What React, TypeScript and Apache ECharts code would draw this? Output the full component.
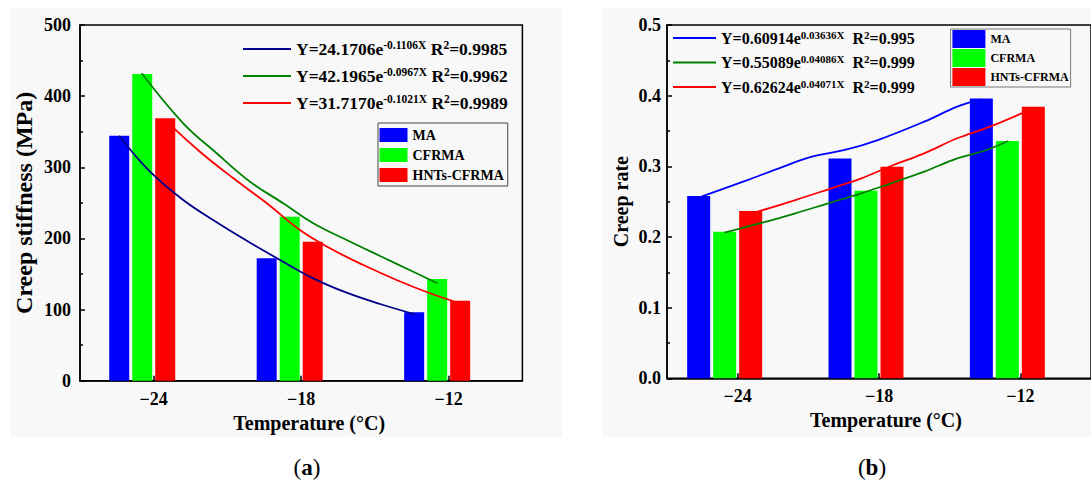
import React, { useEffect, useRef } from "react";
import * as echarts from "echarts";

// ---------- data ----------
const categories = ["−24", "−18", "−12"];
const barNames = ["MA", "CFRMA", "HNTs-CFRMA"];

// (a) creep stiffness (MPa)
const stiffMA = [344.4, 172.2, 96.1];
const stiffCF = [431.1, 230.5, 143.0];
const stiffHN = [368.8, 195.4, 112.5];

// (b) creep rate
const rateMA = [0.258, 0.311, 0.396];
const rateCF = [0.2075, 0.2655, 0.3358];
const rateHN = [0.2368, 0.2995, 0.3844];

// fitted curves: [temperature-axis position, value]
const fitStiffMA = [[-25.41, 344.4], [-24.15, 293.8], [-22.8, 254], [-21.44, 222.7], [-20.08, 194], [-18.86, 169.7], [-17.51, 143.9], [-16.15, 123.7], [-14.79, 107.8], [-13.37, 93.3]];
const fitStiffCF = [[-24.49, 432.1], [-22.8, 361.8], [-21.44, 319.7], [-20.08, 279.7], [-18.73, 249.4], [-17.51, 221.3], [-16.15, 197.8], [-14.79, 175.3], [-13.44, 153.2], [-12.46, 136.9]];
const fitStiffHN = [[-23.47, 364.1], [-22.12, 321.9], [-20.76, 284.5], [-19.4, 249.4], [-18.05, 211.8], [-16.83, 186.1], [-15.47, 162.6], [-14.12, 141.6], [-12.76, 122.9], [-11.54, 108.8]];

const fitRateMA = [[-25.54, 0.257], [-23.65, 0.2797], [-22.25, 0.2972], [-20.85, 0.3136], [-19.45, 0.3231], [-18.05, 0.3372], [-16.08, 0.3632], [-14.68, 0.3844], [-13.71, 0.3948]];
const fitRateCF = [[-24.56, 0.2061], [-22.95, 0.2202], [-21.55, 0.2335], [-20.15, 0.2477], [-18.75, 0.2618], [-17.49, 0.276], [-16.08, 0.2924], [-14.68, 0.3113], [-13.56, 0.3217], [-12.51, 0.3358]];
const fitRateHN = [[-23.16, 0.2358], [-21.55, 0.2523], [-20.15, 0.2675], [-18.75, 0.283], [-17.49, 0.3004], [-16.08, 0.3184], [-14.68, 0.3397], [-13.29, 0.3561], [-11.46, 0.3821]];

// fit equation texts: [coefficient, exponent, R²]
const eqStiff = [["24.1706", "-0.1106X", "0.9985"], ["42.1965", "-0.0967X", "0.9962"], ["31.7170", "-0.1021X", "0.9989"]];
const eqRate = [["0.60914", "0.03636X", "0.995"], ["0.55089", "0.04086X", "0.999"], ["0.62624", "0.04071X", "0.999"]];

const stiffTicks = { min: 0, max: 500, interval: 100 };
const rateTicks = { min: 0, max: 0.5, interval: 0.1 };

const yTitleA = "Creep stiffness (MPa)";
const yTitleB = "Creep rate";
const xTitle = "Temperature (°C)";

// ---------- style ----------
const FONT = "'Liberation Serif', 'Times New Roman', serif";
const BAR_COLORS = ["#0000ff", "#00ff00", "#ff0000"];
const FIT_COLORS_A = ["#00008b", "#008000", "#ff0000"];
const FIT_COLORS_B = ["#0000ff", "#008000", "#ff0000"];
const BG = "#f8f8f8";

export default function App() {
  const ref = useRef<HTMLDivElement>(null);

  useEffect(() => {
    if (!ref.current) return;
    const chart = echarts.init(ref.current, null, { renderer: "svg" });

    const fitNamesA = eqStiff.map((e) => "A: Y=" + e[0] + "e^" + e[1] + " R2=" + e[2]);
    const fitNamesB = eqRate.map((e) => "B: Y=" + e[0] + "e^" + e[1] + " R2=" + e[2]);
    const eqMap: Record<string, string> = {};
    eqStiff.forEach((e, i) => {
      eqMap[fitNamesA[i]] = `{m|Y=${e[0]}e}{s|${e[1]}}{m| R}{s|2}{m|=${e[2]}}`;
    });
    eqRate.forEach((e, i) => {
      eqMap[fitNamesB[i]] = `{m|Y=${e[0]}e}{s|${e[1]}}{m|  R}{s|2}{m|=${e[2]}}`;
    });

    const axisLineStyle = { color: "#000", width: 1.5 };
    const tickLabel = { fontFamily: FONT, fontWeight: "bold", color: "#000", fontSize: 18 };

    const makeGrid = (left: number, top: number, width: number, height: number) => ({
      left, top, width, height,
      show: true,
      backgroundColor: BG,
      borderColor: "#000",
      borderWidth: 1.5,
      containLabel: false,
    });

    const catAxis = (gridIndex: number, padLeft: number) => ({
      type: "category",
      gridIndex,
      data: categories,
      boundaryGap: true,
      axisLine: { show: true, lineStyle: axisLineStyle },
      axisTick: { show: true, alignWithLabel: true, inside: true, length: 5, lineStyle: axisLineStyle },
      axisLabel: { ...tickLabel, margin: 9 },
      splitLine: { show: false },
      name: xTitle,
      nameLocation: "middle",
      nameGap: 29,
      nameTextStyle: { fontFamily: FONT, fontWeight: "bold", color: "#000", fontSize: 20, padding: [0, 0, 0, padLeft] },
    });

    const hiddenValAxis = (gridIndex: number) => ({
      type: "value",
      gridIndex,
      min: -27,
      max: -9,
      show: false,
    });

    const valAxis = (gridIndex: number, t: any, name: string, nameGap: number, nameSize: number, fmt: (v: number) => string, margin: number) => ({
      type: "value",
      gridIndex,
      min: t.min,
      max: t.max,
      interval: t.interval,
      axisLine: { show: true, lineStyle: axisLineStyle },
      axisTick: { show: true, inside: true, length: 5, lineStyle: axisLineStyle },
      minorTick: { show: true, splitNumber: 2, length: 3, lineStyle: axisLineStyle },
      axisLabel: { ...tickLabel, margin, formatter: fmt },
      splitLine: { show: false },
      name,
      nameLocation: "middle",
      nameGap,
      nameTextStyle: { fontFamily: FONT, fontWeight: "bold", color: "#000", fontSize: nameSize },
    });

    const barSeries = (xi: number, yi: number, width: number, gap: string, values: number[][]) => {
      const out: any[] = values.map((d, i) => ({
        type: "bar",
        name: barNames[i],
        xAxisIndex: xi,
        yAxisIndex: yi,
        data: d,
        barWidth: width,
        barGap: gap,
        itemStyle: { color: BAR_COLORS[i] },
        z: 2,
      }));
      out.push({
        type: "bar",
        name: "_spacer" + xi,
        xAxisIndex: xi,
        yAxisIndex: yi,
        data: categories.map(() => "-"),
        barWidth: width,
        barGap: gap,
        itemStyle: { color: "transparent" },
        z: 1,
      });
      return out;
    };

    const fitSeries = (xi: number, yi: number, names: string[], colors: string[], curves: number[][][]) =>
      curves.map((c, i) => ({
        type: "line",
        name: names[i],
        xAxisIndex: xi,
        yAxisIndex: yi,
        data: c,
        smooth: 0.4,
        symbol: "none",
        showSymbol: false,
        color: colors[i],
        lineStyle: { color: colors[i], width: 1.8 },
        z: 5,
      }));

    const eqLegend = (left: number, top: number, names: string[], size: number, supSize: number, lh: number, gap: number, itemWidth: number) => ({
      left,
      top,
      orient: "vertical",
      padding: 0,
      itemGap: gap,
      itemWidth,
      itemHeight: 2,
      icon: "rect",
      selectedMode: false,
      data: names,
      formatter: (n: string) => eqMap[n] || n,
      textStyle: {
        fontFamily: FONT,
        fontWeight: "bold",
        color: "#000",
        fontSize: size,
        rich: {
          m: { fontFamily: FONT, fontWeight: "bold", color: "#000", fontSize: size, lineHeight: lh, verticalAlign: "middle" },
          s: { fontFamily: FONT, fontWeight: "bold", color: "#000", fontSize: supSize, lineHeight: supSize + 1, verticalAlign: "top" },
        },
      },
    });

    const boxLegend = (left: number, top: number, padding: number[], iw: number, ih: number, gap: number, size: number, border: string) => ({
      left,
      top,
      orient: "vertical",
      padding,
      itemGap: gap,
      itemWidth: iw,
      itemHeight: ih,
      icon: "rect",
      selectedMode: false,
      borderColor: border,
      borderWidth: 1,
      backgroundColor: BG,
      data: barNames,
      textStyle: { fontFamily: FONT, fontWeight: "bold", color: "#000", fontSize: size, lineHeight: ih },
    });

    const option: any = {
      animation: false,
      textStyle: { fontFamily: FONT },
      graphic: [
        { type: "rect", z: -10, silent: true, shape: { x: 10, y: 8, width: 552, height: 429 }, style: { fill: BG } },
        { type: "rect", z: -10, silent: true, shape: { x: 602, y: 8, width: 495, height: 429 }, style: { fill: BG } },
        {
          type: "text", x: 307, y: 467, silent: true,
          style: {
            text: "{p|(}{b|a}{p|)}", align: "center", verticalAlign: "middle",
            rich: {
              p: { fontFamily: FONT, fontSize: 23, fill: "#000" },
              b: { fontFamily: FONT, fontSize: 23, fontWeight: "bold", fill: "#000" },
            },
          },
        },
        {
          type: "text", x: 872, y: 467, silent: true,
          style: {
            text: "{p|(}{b|b}{p|)}", align: "center", verticalAlign: "middle",
            rich: {
              p: { fontFamily: FONT, fontSize: 23, fill: "#000" },
              b: { fontFamily: FONT, fontSize: 23, fontWeight: "bold", fill: "#000" },
            },
          },
        },
      ],
      grid: [makeGrid(80, 25, 442.4, 355.7), makeGrid(667, 25, 428.4, 353.3)],
      xAxis: [catAxis(0, 16), catAxis(1, 14), hiddenValAxis(0), hiddenValAxis(1)],
      yAxis: [
        valAxis(0, stiffTicks, yTitleA, 44, 24, (v: number) => String(Math.round(v)), 9),
        valAxis(1, rateTicks, yTitleB, 36, 20, (v: number) => v.toFixed(1), 6),
      ],
      legend: [
        eqLegend(243, 39, fitNamesA, 17.5, 11.5, 20, 8, 48),
        eqLegend(673, 29, fitNamesB, 16, 11, 18, 7.5, 43),
        boxLegend(378, 123, [5, 4, 4, 1.5], 28, 14, 6, 14, "#444"),
        boxLegend(950.6, 29, [1, 2, 1, 1.8], 33, 18, 1, 12, "#777"),
      ],
      series: [
        ...barSeries(0, 0, 20, "15%", [stiffMA, stiffCF, stiffHN]),
        ...barSeries(1, 1, 23, "13%", [rateMA, rateCF, rateHN]),
        ...fitSeries(2, 0, fitNamesA, FIT_COLORS_A, [fitStiffMA, fitStiffCF, fitStiffHN]),
        ...fitSeries(3, 1, fitNamesB, FIT_COLORS_B, [fitRateMA, fitRateCF, fitRateHN]),
      ],
    };

    chart.setOption(option);
    return () => chart.dispose();
  }, []);

  return (
    <div style={{ position: "absolute", left: 0, top: 0, width: 1091, height: 480, background: "#fff", overflow: "hidden" }}>
      <div ref={ref} style={{ width: 1091, height: 480 }} />
    </div>
  );
}
